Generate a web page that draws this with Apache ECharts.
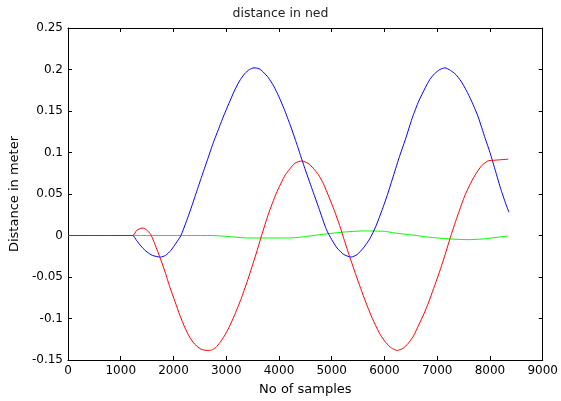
<!DOCTYPE html>
<html>
<head>
<meta charset="utf-8">
<script src="https://cdn.jsdelivr.net/npm/echarts@6/dist/echarts.min.js"></script>
<style>html,body{margin:0;padding:0;background:#fff}#c{width:561px;height:401px}</style>
</head>
<body>
<div id="c"></div>
<script>
var xTicks = [0,1000,2000,3000,4000,5000,6000,7000,8000,9000];
var yTicks = [-0.15,-0.1,-0.05,0,0.05,0.1,0.15,0.2,0.25];

var blueX = [0,1200,1230,1300,1400,1500,1600,1750,1850,1950,2050,2141,2250,2350,2450,2550,2653,2750,2871,2950,3050,3152,3250,3350,3440,3526,3620,3700,3800,3900,4000,4100,4213,4307,4400,4500,4650,4750,4900,5000,5100,5230,5368,5480,5600,5720,5836,5950,6050,6150,6273,6398,6523,6650,6773,6860,6950,7050,7147,7250,7350,7450,7550,7650,7772,7909,8000,8084,8200,8300,8360];
var blueY = [0,0,0,-0.006,-0.014,-0.020,-0.024,-0.026,-0.024,-0.018,-0.009,0,0.018,0.036,0.055,0.074,0.093,0.111,0.131,0.144,0.159,0.174,0.186,0.195,0.200,0.202,0.201,0.197,0.190,0.180,0.167,0.152,0.133,0.116,0.098,0.079,0.052,0.034,0.007,-0.005,-0.015,-0.023,-0.026,-0.023,-0.015,-0.004,0.011,0.030,0.048,0.068,0.093,0.116,0.141,0.162,0.178,0.188,0.195,0.200,0.202,0.199,0.194,0.186,0.175,0.162,0.1436,0.117,0.100,0.082,0.057,0.038,0.028];

var redX = [0,1230,1300,1404,1450,1520,1579,1650,1747,1841,1930,2028,2120,2216,2310,2403,2520,2640,2720,2800,2880,2965,3050,3150,3277,3400,3527,3600,3670,3800,3950,4120,4300,4432,4550,4650,4750,4838,4950,5050,5150,5240,5337,5450,5550,5649,5770,5899,6000,6100,6170,6242,6350,6450,6550,6648,6750,6840,6930,7022,7140,7260,7397,7523,7610,7710,7840,7959,8050,8150,8346];
var redY = [0,0,0.006,0.009,0.0085,0.005,0,-0.011,-0.027,-0.044,-0.062,-0.0795,-0.096,-0.111,-0.123,-0.131,-0.137,-0.1385,-0.138,-0.135,-0.129,-0.121,-0.111,-0.097,-0.077,-0.055,-0.030,-0.015,0,0.026,0.051,0.073,0.087,0.0898,0.087,0.081,0.073,0.063,0.046,0.030,0.012,-0.006,-0.025,-0.046,-0.064,-0.081,-0.100,-0.117,-0.127,-0.134,-0.137,-0.1385,-0.136,-0.130,-0.121,-0.108,-0.094,-0.080,-0.064,-0.0477,-0.025,0,0.026,0.048,0.060,0.072,0.084,0.0898,0.0905,0.091,0.092];

var greenX = [0,2700,3000,3400,4200,4400,4775,5200,5600,6000,6200,6600,6835,7200,7584,7900,8150,8340];
var greenY = [0,0,-0.001,-0.003,-0.003,-0.002,0.001,0.004,0.0055,0.005,0.003,0,-0.002,-0.004,-0.005,-0.004,-0.002,-0.0005];

function pairs(xs, ys){ return xs.map(function(x,i){ return [x, ys[i]]; }); }

var chart = echarts.init(document.getElementById('c'), null, {renderer:'canvas'});
var font = 'DejaVu Sans, sans-serif';
var axisLine = {show:true, onZero:false, lineStyle:{color:'#000', width:1}};
var tick = {show:true, inside:true, length:4, lineStyle:{color:'#000'}};
chart.setOption({
  animation:false,
  backgroundColor:'#fff',
  title:{text:'distance in ned', left:'center', top:2, textStyle:{fontFamily:font, fontSize:12.5, fontWeight:'normal', color:'#222'}},
  grid:{left:65, top:28, right:16, bottom:39},
  xAxis:[{
    type:'value', min:0, max:9000, interval:1000, position:'bottom',
    name:'No of samples', nameLocation:'middle', nameGap:23,
    nameTextStyle:{fontFamily:font, fontSize:13, color:'#000'},
    axisLine:axisLine, axisTick:tick, splitLine:{show:false},
    axisLabel:{fontFamily:font, fontSize:12, color:'#000', margin:5, formatter:function(v){ return String(v); }}
  },{
    type:'value', min:0, max:9000, interval:1000, position:'top',
    axisLine:axisLine, axisTick:tick, splitLine:{show:false}, axisLabel:{show:false}
  }],
  yAxis:[{
    type:'value', min:-0.15, max:0.25, interval:0.05, position:'left',
    name:'Distance in meter', nameLocation:'middle', nameGap:47, nameRotate:90,
    nameTextStyle:{fontFamily:font, fontSize:13, color:'#000'},
    axisLine:axisLine, axisTick:tick, splitLine:{show:false},
    axisLabel:{fontFamily:font, fontSize:12, color:'#000', margin:5,
      formatter:function(v){ return String(parseFloat(v.toFixed(2))); }}
  },{
    type:'value', min:-0.15, max:0.25, interval:0.05, position:'right',
    axisLine:axisLine, axisTick:tick, splitLine:{show:false}, axisLabel:{show:false}
  }],
  series:[
    {type:'line', data:pairs(greenX, greenY), showSymbol:false, smooth:0.2, lineStyle:{color:'#00ff00', width:1}},
    {type:'line', data:pairs(blueX, blueY), showSymbol:false, smooth:0.2, lineStyle:{color:'#0000ff', width:1}},
    {type:'line', data:pairs(redX, redY), showSymbol:false, smooth:0.2, lineStyle:{color:'#ff0000', width:1}}
  ]
});
</script>
</body>
</html>
